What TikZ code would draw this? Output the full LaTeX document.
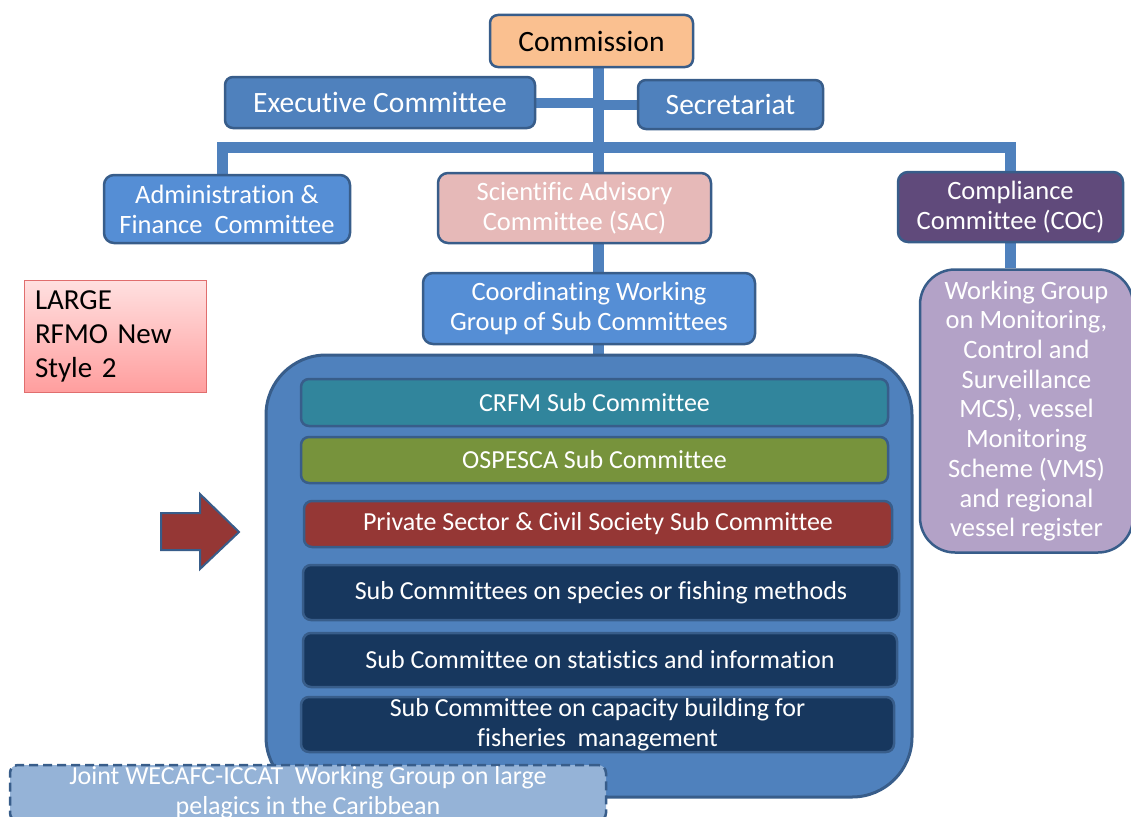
\documentclass[tikz,border=0pt]{standalone}
\usepackage{fontspec}
\setmainfont[Ligatures=NoCommon]{Carlito}
\usepackage{tikz}
\usetikzlibrary{backgrounds}
\definecolor{linkblue}{RGB}{79,129,189}
\definecolor{edgeblue}{RGB}{56,93,138}
\definecolor{execblue}{RGB}{79,129,189}
\definecolor{lightblue}{RGB}{85,142,213}
\definecolor{commorange}{RGB}{250,192,144}
\definecolor{sacpink}{RGB}{230,185,184}
\definecolor{cocpurple}{RGB}{96,74,123}
\definecolor{wglilac}{RGB}{179,162,199}
\definecolor{crfmteal}{RGB}{49,133,156}
\definecolor{ospescagreen}{RGB}{119,147,60}
\definecolor{privred}{RGB}{149,55,53}
\definecolor{subnavy}{RGB}{23,55,94}
\definecolor{jointblue}{RGB}{149,179,215}
\definecolor{largered}{RGB}{224,110,110}

\begin{document}
\begin{tikzpicture}[x=1pt, y=-1pt,
    box/.style={rectangle, draw=edgeblue, line width=2.5pt, rounded corners=8pt, text=white, align=center, inner sep=0pt},
    big/.style={font=\fontsize{29.5}{34}\selectfont},
    mid/.style={font=\fontsize{26.5}{30}\selectfont},
    small/.style={font=\fontsize{26}{30}\selectfont},
    link/.style={draw=linkblue, line width=11pt}
]
    \useasboundingbox (0,0) rectangle (1131,816);

    % top level
    \node[box, big, fill=commorange, text=black, minimum width=203pt, minimum height=52pt] (commission) at (591.5,41) {Commission};
    \node[box, big, fill=execblue, minimum width=310pt, minimum height=51pt] (exec) at (380,102.5) {Executive Committee};
    \node[box, big, fill=execblue, minimum width=185pt, minimum height=49pt] (secretariat) at (730.5,104.5) {Secretariat};

    % committees
    \node[box, mid, fill=lightblue, minimum width=246pt, minimum height=68pt, rounded corners=10pt] (admin) at (227,209) {Administration \&\\Finance\ \ Committee};
    \node[box, mid, fill=sacpink, minimum width=273pt, minimum height=70pt, rounded corners=10pt] (sac) at (574.5,208) {Scientific Advisory\\Committee (SAC)};
    \node[box, mid, fill=cocpurple, minimum width=225pt, minimum height=70pt, rounded corners=10pt] (coc) at (1010.5,207) {Compliance\\Committee (COC)};
    \node[box, mid, fill=lightblue, minimum width=332pt, minimum height=71pt, rounded corners=10pt] (cwg) at (589,308.5) {Coordinating Working\\Group of Sub Committees};
    \node[box, fill=wglilac, font=\fontsize{26.5}{29.7}\selectfont, minimum width=213pt, minimum height=283pt, rounded corners=35pt] (mcs) at (1026.5,411) {Working Group\\on Monitoring,\\Control and\\Surveillance\\MCS), vessel\\Monitoring\\Scheme (VMS)\\and regional\\vessel register};

    % sub committees
    \node[box, fill=execblue, line width=3pt, minimum width=646pt, minimum height=442pt, rounded corners=60pt] (subgroup) at (589,576) {};
    \node[box, small, fill=crfmteal, minimum width=587pt, minimum height=47pt] (crfm) at (594.5,402.5) {CRFM Sub Committee};
    \node[box, small, fill=ospescagreen, minimum width=587pt, minimum height=46pt] (ospesca) at (594.5,460) {OSPESCA Sub Committee};
    \node[box, small, fill=privred, minimum width=588pt, minimum height=46pt] (private) at (598,524) {Private Sector \& Civil Society Sub Committee};
    \node[box, small, fill=subnavy, minimum width=596pt, minimum height=55pt] (species) at (601,592.5) {Sub Committees on species or fishing methods};
    \node[box, small, fill=subnavy, minimum width=594pt, minimum height=54pt] (stats) at (600,660) {Sub Committee on statistics and information};
    \node[box, small, fill=subnavy, minimum width=593pt, minimum height=55pt] (capacity) at (597.5,724.5) {Sub Committee on capacity building for\\fisheries\ \ management};

    % side notes
    \node[draw=largered, line width=1pt, top color=red!12, bottom color=red!38, minimum width=182pt, minimum height=112pt, text width=160pt, align=left, inner sep=0pt, font=\fontsize{29}{34}\selectfont] (stylenote) at (115,336) {LARGE\\RFMO New\\Style 2};
    \node[box, small, dash pattern=on 9pt off 5pt, fill=jointblue, minimum width=596pt, minimum height=56pt] (joint) at (308,793) {Joint WECAFC-ICCAT\ \ Working Group on large\\pelagics in the Caribbean};

    \filldraw[draw=edgeblue, line width=2pt, fill=privred] (161,513) -- (200,513) -- (200,494) -- (239,532) -- (200,569) -- (200,550) -- (161,550) -- cycle;

    % connectors
    \coordinate (trunk) at (598,0);
    \coordinate (bar) at (598,147);
    \begin{scope}[on background layer]
        \draw[link] (commission.south -| trunk) -- (sac.north -| trunk);
        \draw[link, line width=10pt] (exec.east) -- (exec.east -| trunk);
        \draw[link, line width=10pt] (secretariat.west) -- (secretariat.west -| trunk);
        \draw[link] ([xshift=-5pt]admin.north) |- (coc.north |- bar) -- (coc.north);
        \draw[link] (sac.south -| trunk) -- (cwg.north -| trunk);
        \draw[link] (coc.south) -- (mcs.north -| coc.south);
        \draw[link] (cwg.south -| trunk) -- (subgroup.north -| trunk);
    \end{scope}
\end{tikzpicture}
\end{document}
